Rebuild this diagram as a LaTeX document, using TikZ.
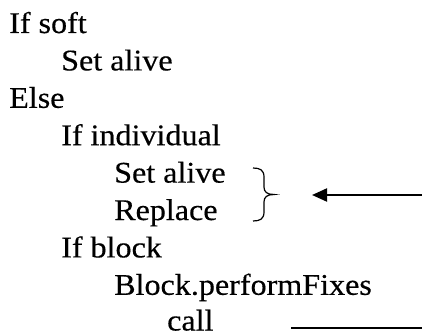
\documentclass[tikz,border=0pt]{standalone}
\usepackage{fontspec}
\setmainfont{Liberation Serif}[FakeStretch=1.07,FakeBold=0.4]
\usetikzlibrary{arrows.meta}
\begin{document}
\begin{tikzpicture}[x=1pt,y=-1pt,
  code/.style={anchor=base west,inner sep=0pt,font=\fontsize{30}{36}\selectfont},
  mark line/.style={line width=1.6pt}]
\useasboundingbox (0,0) rectangle (422,334);
% pseudo-code lines, one indent level = 53pt
\node[code] (l1) at (9,33)    {If soft};
\node[code] (l2) at (61,70.4) {Set alive};
\node[code] (l3) at (9,107.8) {Else};
\node[code] (l4) at (61,145.2) {If individual};
\node[code] (l5) at (114,182.6) {Set alive};
\node[code] (l6) at (114,220) {Replace};
\node[code] (l7) at (61,257.4) {If block};
\node[code] (l8) at (114,294.8) {Block.performFixes};
\node[code] (l9) at (167,330.5) {call};
% brace grouping the two statements
\coordinate (btop) at (253,168);
\coordinate (btip) at (274,194.5);
\coordinate (bbot) at (253,221);
\draw[line width=1.2pt]
  (btop) .. controls (260,168) and (264,170) .. (264,177)
  -- (264,187) .. controls (264,192) and (267,194.5) .. (btip)
  .. controls (267,194.5) and (264,197) .. (264,202)
  -- (264,212) .. controls (264,219) and (260,221) .. (bbot);
% arrow pointing at the brace
\coordinate (aend) at (312,195);
\coordinate (astart) at (422,195);
\draw[line width=2pt,-{Triangle[length=15pt,width=13pt]}] (astart) -- (aend);
% line beside the call
\coordinate (cstart) at (291,328);
\coordinate (cend) at (422,328);
\draw[mark line] (cstart) -- (cend);
\end{tikzpicture}
\end{document}
